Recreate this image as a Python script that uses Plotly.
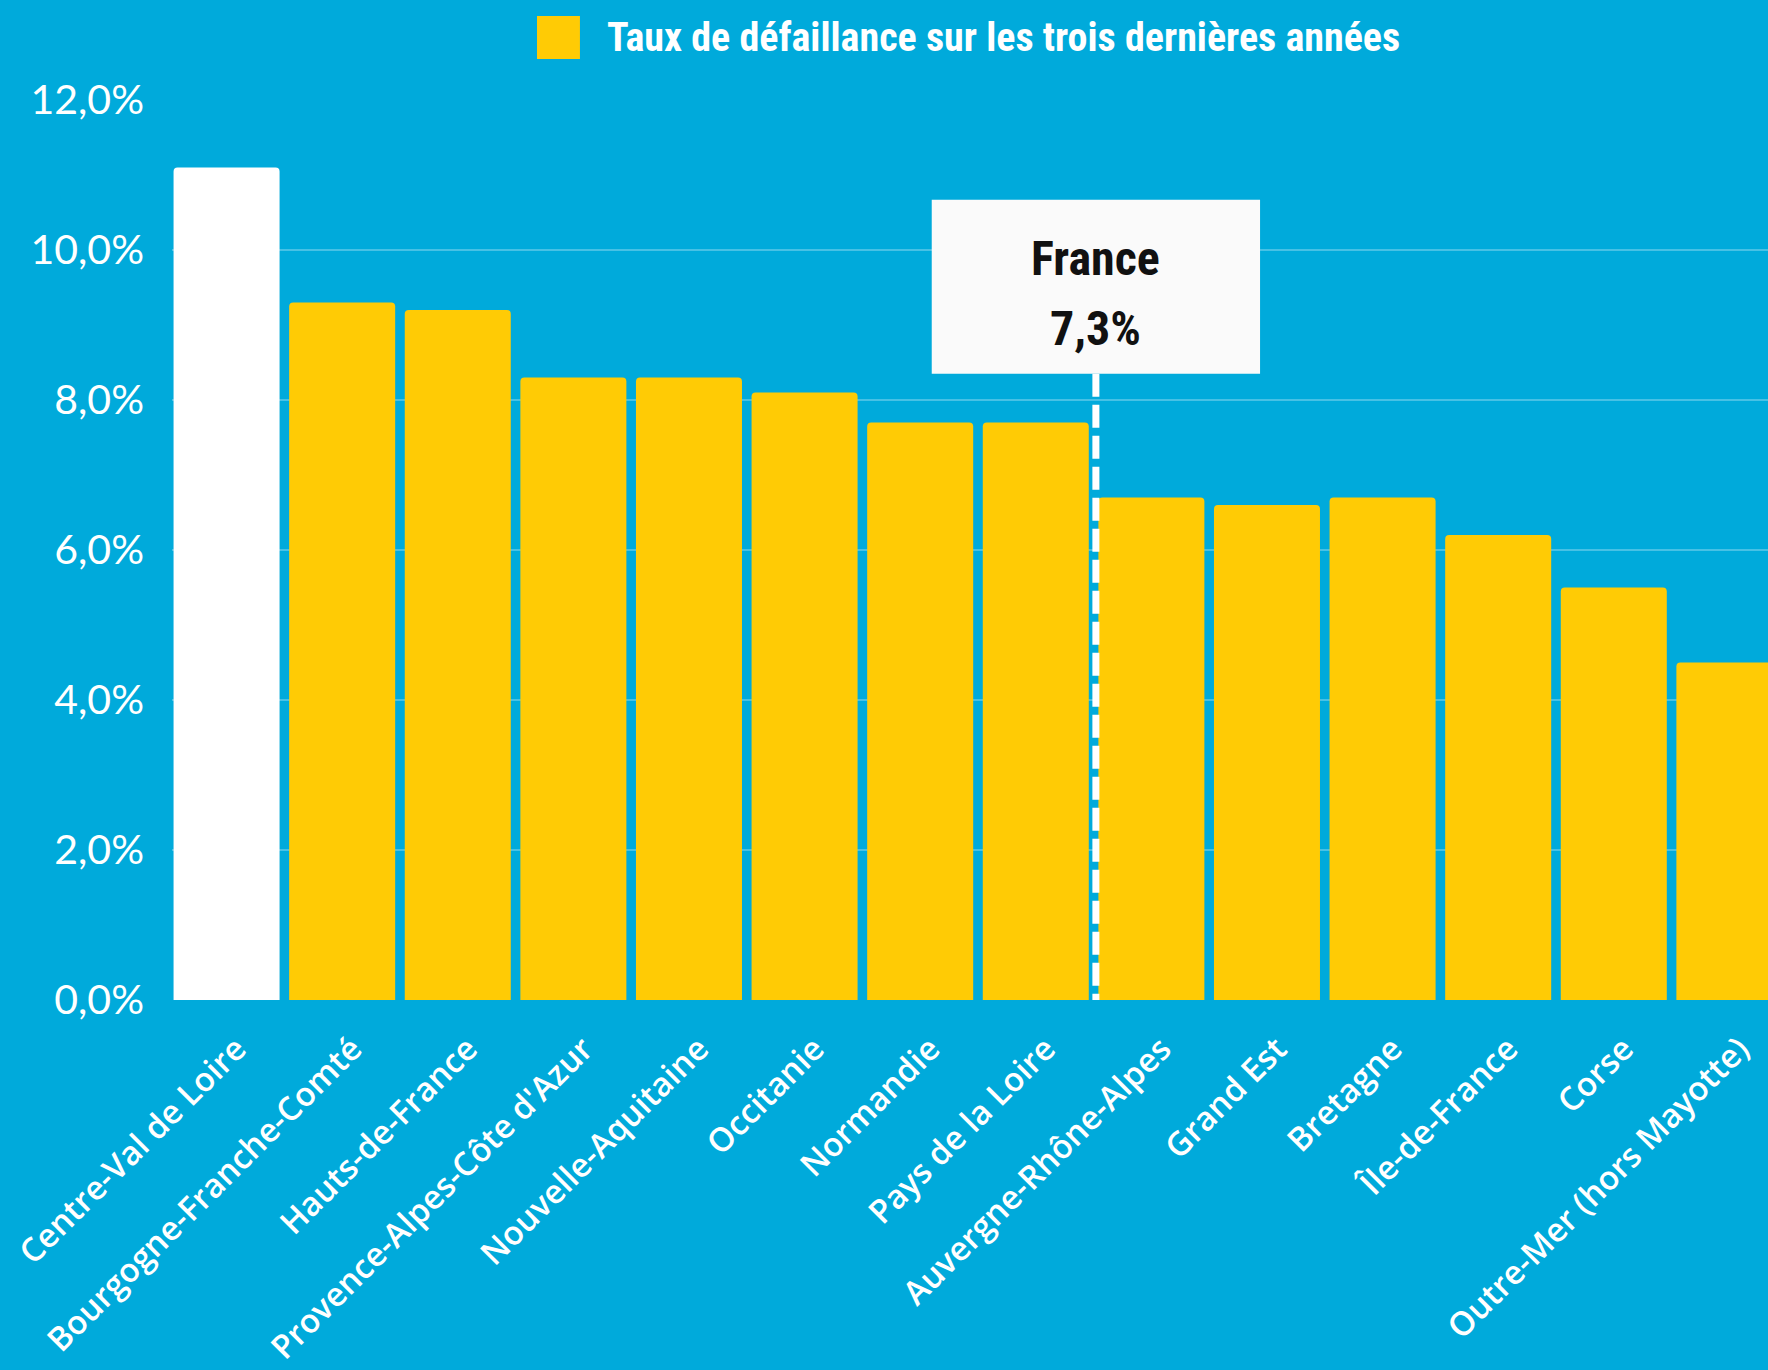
import plotly.graph_objects as go

# ---- data ----
regions = [
    "Centre-Val de Loire", "Bourgogne-Franche-Comté", "Hauts-de-France",
    "Provence-Alpes-Côte d'Azur", "Nouvelle-Aquitaine", "Occitanie",
    "Normandie", "Pays de la Loire", "Auvergne-Rhône-Alpes", "Grand Est",
    "Bretagne", "Île-de-France", "Corse", "Outre-Mer (hors Mayotte)",
]
rates = [11.1, 9.3, 9.2, 8.3, 8.3, 8.1, 7.7, 7.7, 6.7, 6.6, 6.7, 6.2, 5.5, 4.5]
series_name = "Taux de défaillance sur les trois dernières années"
y_ticks = [0, 2, 4, 6, 8, 10, 12]
y_tick_labels = ["0,0%", "2,0%", "4,0%", "6,0%", "8,0%", "10,0%", "12,0%"]
france_name = "France"
france_value = 7.3
france_label = "7,3%"
highlight_region = "Centre-Val de Loire"

# ---- style ----
BG = "#00AADB"
YELLOW = "#FFCB05"
WHITE = "#FFFFFF"
GRID = "rgba(255,255,255,0.28)"
COND = "Roboto Condensed, Liberation Sans Narrow, Roboto"

bar_colors = [WHITE if r == highlight_region else YELLOW for r in regions]

fig = go.Figure()
fig.add_trace(go.Bar(
    x=regions, y=rates, name=series_name,
    marker=dict(color=bar_colors, line=dict(width=0)),
    showlegend=False, hoverinfo="x+y",
))

# France reference marker (between Pays de la Loire and Auvergne-Rhône-Alpes)
line_x = 7.52
box_half = 1.42
box_bottom = 8.35
box_top = 10.67

fig.add_shape(type="line", xref="x", yref="y", x0=line_x, x1=line_x,
              y0=box_bottom, y1=0, line=dict(color=WHITE, width=7, dash="23px,8px"),
              layer="above")
fig.add_shape(type="rect", xref="x", yref="y", x0=line_x - box_half, x1=line_x + box_half,
              y0=box_bottom, y1=box_top, fillcolor="#FAFAFA", line=dict(width=0),
              layer="above")
box_font = dict(family=COND, size=48, color="#111111", weight="bold")
fig.add_annotation(x=line_x, y=9.89, xref="x", yref="y", text=france_name, showarrow=False,
                   font=box_font, xanchor="center", yanchor="middle")
fig.add_annotation(x=line_x, y=8.96, xref="x", yref="y", text=france_label, showarrow=False,
                   font=box_font, xanchor="center", yanchor="middle")

# custom legend
fig.add_shape(type="rect", xref="paper", yref="paper", x0=0.2287, x1=0.2556,
              y0=1.0456, y1=1.0933, fillcolor=YELLOW, line=dict(width=0))
fig.add_annotation(x=0.2713, y=1.0689, xref="paper", yref="paper", text=series_name,
                   showarrow=False, xanchor="left", yanchor="middle",
                   font=dict(family=COND, size=40, color=WHITE, weight="bold"))

fig.update_layout(
    width=1768, height=1370,
    paper_bgcolor=BG, plot_bgcolor=BG,
    margin=dict(l=172, r=0, t=100, b=370, autoexpand=False),
    bargap=0.083,
    barcornerradius=4,
    showlegend=False,
    xaxis=dict(
        type="category", range=[-0.472, 13.334],
        tickangle=-45, showgrid=False, showline=False, zeroline=False, ticks="",
        tickfont=dict(family="Open Sans", size=33, color=WHITE, weight=600),
        ticklabelstandoff=22, ticklabelshift=10,
    ),
    yaxis=dict(
        range=[0, 12], tickvals=y_ticks, ticktext=y_tick_labels,
        showgrid=True, gridcolor=GRID, gridwidth=1.5, zeroline=False, showline=False,
        ticks="", ticklabelstandoff=27,
        tickfont=dict(family="Lato", size=41, color=WHITE),
    ),
)

fig.write_html("out.html", config={"displayModeBar": False},
               post_script="document.body.style.margin='0';document.body.style.overflow='hidden';")
